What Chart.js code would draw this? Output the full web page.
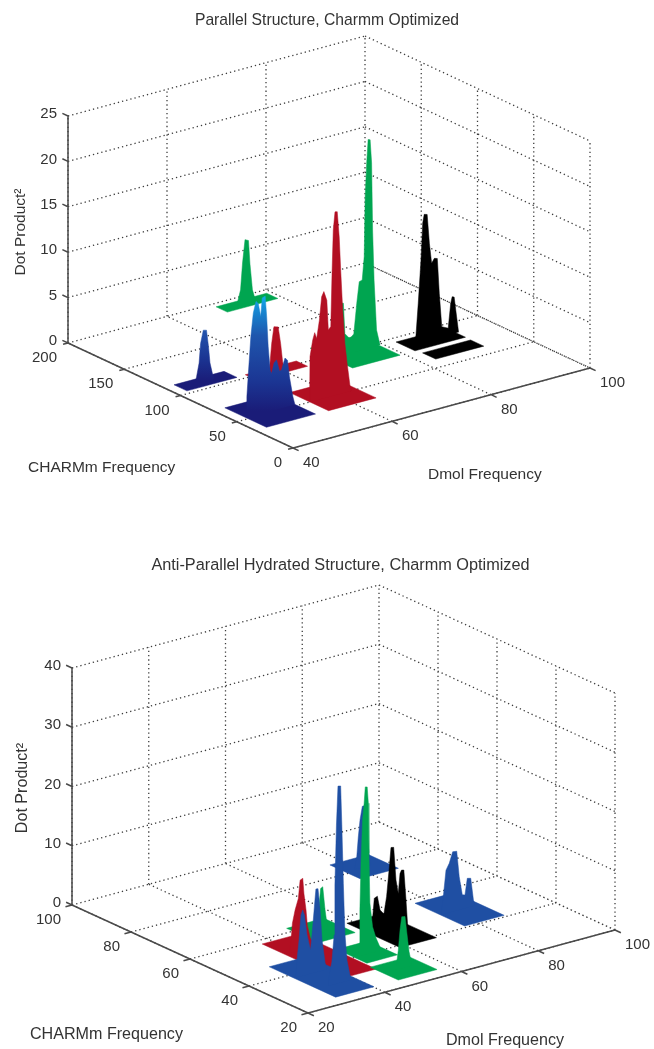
<!DOCTYPE html>
<html>
<head>
<meta charset="utf-8">
<title>Dot Product surfaces</title>
<script src="https://cdn.jsdelivr.net/npm/chart.js@4"></script>
<style>
  html, body { margin: 0; padding: 0; background: #fff; }
  canvas { position: absolute; left: 0; filter: blur(0.4px); }
</style>
</head>
<body>
<canvas id="chartTop" width="654" height="530" style="top:0"></canvas>
<canvas id="chartBottom" width="654" height="519" style="top:530px"></canvas>
<script>
// tick labels
const topDmolTicks = [40, 60, 80, 100];
const topCharmmTicks = [0, 50, 100, 150, 200];
const topDotTicks = [0, 5, 10, 15, 20, 25];
const bottomDmolTicks = [20, 40, 60, 80, 100];
const bottomCharmmTicks = [20, 40, 60, 80, 100];
const bottomDotTicks = [0, 10, 20, 30, 40];

// parallel structure: base plates [min, max] and peak outlines
const topBlackPlateDmol = [82.3, 92.5];
const topBlackPlateCharmm = [77.7, 94.5];
const topBlack2PlateDmol = [82.7, 92.4];
const topBlack2PlateCharmm = [61, 72.7];
const topBlackCharmm = 86;
const topBlackDmol = [84.2, 84.4, 84.85, 85.4, 85.75, 86.05, 86.65, 87.1, 87.55, 88.1, 88.7, 89.1, 89.6, 90.9, 91.4, 91.7, 92.1, 92.6, 93];
const topBlackDot = [0, 1, 4.4, 9.05, 13.1, 14, 13.9, 10.65, 8.4, 8.85, 8.75, 4.85, 1.1, 0.75, 3.4, 4.1, 4, 1.75, 0];

const topGreenBackPlateDmol = [68.9, 79.1];
const topGreenBackPlateCharmm = [185.5, 195.5];
const topGreenBackCharmm = 190.5;
const topGreenBackDmol = [72, 72.2, 72.7, 73.1, 73.6, 74.3, 74.6, 75.1, 75.6, 75.9];
const topGreenBackDot = [0, 0.55, 1.6, 4.5, 7, 6.8, 4.2, 1.25, 0.25, 0];

const topGreenPlateDmol = [69.6, 79.2];
const topGreenPlateCharmm = [77.3, 115];
const topGreenCharmm = 96;
const topGreenDmol = [70.5, 71.3, 71.45, 72, 72.3, 73.3, 74.1, 74.7, 75.2, 75.8, 76.2, 76.4, 76.7, 77, 77.4, 77.7, 77.9, 78.2, 78.7, 79.4];
const topGreenDot = [0, 2.1, 5.8, 5.7, 2.3, 1.6, 2, 5.3, 7.6, 7.7, 10.2, 16.8, 20.4, 23, 22.9, 20.3, 12.9, 7.3, 1.75, 0];

const topRedSmallPlateDmol = [54, 64.3];
const topRedSmallPlateCharmm = [94, 104];
const topRedSmallCharmm = 99;
const topRedSmallDmol = [57.5, 57.85, 58.2, 58.65, 59.5, 60, 60.4, 60.7];
const topRedSmallDot = [0, 1, 3.15, 4.9, 4.75, 2.85, 0.8, 0];

const topNavySmallPlateDmol = [42.1, 52.2];
const topNavySmallPlateCharmm = [103.5, 115];
const topNavySmallCharmm = 109;
const topNavySmallDmol = [45, 45.3, 45.8, 46.1, 46.65, 47.3, 47.7, 48, 48.55, 48.8];
const topNavySmallDot = [0, 0.8, 2.2, 4.3, 5.7, 5.6, 3.75, 1.9, 0.5, 0];

const topRedPlateDmol = [54.8, 64.4];
const topRedPlateCharmm = [33.5, 68];
const topRedCharmm = 50;
const topRedDmol = [54.7, 54.75, 54.8, 55.35, 55.75, 56.15, 56.7, 57.15, 57.6, 58.2, 58.5, 59, 59.25, 59.5, 59.85, 60.3, 60.7, 61, 61.4, 61.85, 62.3, 62.9, 63];
const topRedDot = [0, 1.7, 5, 6.75, 7.5, 6.8, 8.75, 11.25, 11.75, 10.7, 7.4, 7.7, 13.5, 18.25, 20.2, 20.15, 17.3, 13.6, 9.2, 5.4, 3.15, 0.5, 0];

const topNavyPlateDmol = [42.3, 52.2];
const topNavyPlateCharmm = [33.7, 70.7];
const topNavyCharmm = 52;
const topNavyDmol = [42.4, 42.5, 42.8, 43.3, 43.8, 44.35, 44.8, 45.3, 45.6, 46.2, 46.5, 46.8, 47.2, 47.5, 48, 48.5, 49.1, 49.5, 50.2, 50.7, 51.1, 51.8, 52.2];
const topNavyDot = [0, 2.3, 4.8, 8.75, 11.3, 12.5, 12.2, 10.7, 12.7, 12.8, 10.5, 7.2, 4.5, 4.1, 5.2, 5.45, 4.1, 4.2, 5.4, 5.1, 3.2, 0.9, 0];

// anti-parallel hydrated structure
const botBlueBackPlateDmol = [76.6, 86.6];
const botBlueBackPlateCharmm = [76, 86.2];
const botBlueBackCharmm = 81;
const botBlueBackDmol = [79, 79.6, 80, 80.45, 81.05, 81.75, 82.35, 82.9, 83.3];
const botBlueBackDot = [0, 2, 5.3, 8.1, 10.3, 10.3, 4.9, 1.4, 0];

const botBlueRightPlateDmol = [76.8, 87.1];
const botBlueRightPlateCharmm = [40.8, 57.6];
const botBlueRightCharmm = 49;
const botBlueRightDmol = [77, 77.55, 78.25, 79.1, 80, 81.05, 81.7, 82.5, 83.2, 83.8, 84.7, 85.4, 85.8];
const botBlueRightDot = [0, 2.95, 7.3, 8.3, 10.1, 10, 5.6, 2.4, 2.25, 4.95, 4.8, 1, 0];

const botBlackPlateDmol = [58.5, 68];
const botBlackPlateCharmm = [38.9, 56.9];
const botBlackCharmm = 48;
const botBlackDmol = [58, 58.4, 58.8, 59.6, 60.3, 61.3, 62, 62.7, 63.15, 63.85, 64.45, 65.05, 65.5, 65.9, 66.5, 67, 67.5];
const botBlackDot = [0, 3.2, 6.2, 6.4, 3.95, 3.1, 5.9, 10.6, 14, 13.9, 8.3, 5.9, 9.2, 9.7, 9.6, 5.05, 0];

const botGreenBackPlateDmol = [46.8, 56.5];
const botGreenBackPlateCharmm = [51.5, 62.1];
const botGreenBackCharmm = 56.5;
const botGreenBackDmol = [50.2, 50.65, 51, 51.35, 51.9, 52.5, 53.1, 53.5];
const botGreenBackDot = [0, 1, 4.8, 7.2, 7.4, 3.4, 0.5, 0];

const botRedPlateDmol = [37.2, 46.9];
const botRedPlateCharmm = [31.9, 57.9];
const botRedCharmm = 50;
const botRedDmol = [38.2, 38.65, 39, 39.7, 40.55, 41, 41.7, 42, 42.55, 42.9, 44.1, 44.4];
const botRedDot = [0, 2.2, 5, 7.1, 8.9, 11.9, 12.1, 9.5, 6.6, 3.9, 0.4, 0];

const botGreenPlateDmol = [47.5, 55.5];
const botGreenPlateCharmm = [35.8, 46];
const botGreenCharmm = 40;
const botGreenDmol = [48.3, 48.75, 48.9, 49.2, 49.6, 50, 50.3, 50.8, 51.1, 51.25, 51.5, 52.2, 53.1, 54.5];
const botGreenDot = [0, 2.2, 7.8, 16, 22.9, 25.6, 28.3, 28.2, 25.4, 17, 8.5, 4.35, 2.3, 0];

const botGreenFrontPlateDmol = [46.6, 56.7];
const botGreenFrontPlateCharmm = [24, 33.5];
const botGreenFrontCharmm = 29;
const botGreenFrontDmol = [49.8, 50.45, 50.9, 51.35, 52.2, 52.65, 53.25, 54];
const botGreenFrontDot = [0, 3.2, 6.55, 8.7, 8.6, 5.9, 2.5, 0];

const botBluePlateDmol = [30.2, 40.2];
const botBluePlateCharmm = [23.9, 46.4];
const botBlueLeftCharmm = 38;
const botBlueLeftDmol = [30.6, 31.05, 31.5, 32, 32.45, 32.9, 33.6, 34.5, 35.1, 35.65, 35.9, 36.45, 37, 37.5, 38.3, 38.8];
const botBlueLeftDot = [0, 3.45, 6.2, 10.35, 11.1, 10.2, 6.7, 4, 8.1, 12.25, 14.05, 14, 10.3, 5.15, 1.15, 0];
const botBlueTallCharmm = 30;
const botBlueTallDmol = [33, 33.2, 33.9, 34.5, 34.7, 35.1, 35.5, 36.2, 36.5, 36.9, 37.3, 37.85, 38.6, 39];
const botBlueTallDot = [0, 1.85, 3.9, 8.35, 16.75, 26.8, 33.3, 33.2, 26.6, 16.6, 8.2, 3.5, 0.9, 0];

const BLACK = "#000000";
const GREEN = "#00a550";
const RED = "#b20f22";
const NAVY = "#1a1c78";
const BLUE = "#1f4fa3";

const FONT = "'Liberation Sans', Arial, sans-serif";
const TEXT = "#333333";

// view of the box on the page (orthographic, so one step per unit on each axis)
const topView = {
  canvasTop: 0, canvasHeight: 530, titlePad: 11, titleSize: 15.7, leftPad: 0, labelSize: 15.5,
  title: "Parallel Structure, Charmm Optimized",
  dmol: topDmolTicks, charmm: topCharmmTicks, dot: topDotTicks,
  x0: 293, y0: 448, xD: 4.95, yD: -1.333, xC: -1.125, yC: -0.525, yZ: -9.08,
  dmolLabel: { x: 428, y: 475 }, charmmLabel: { x: 28, y: 468 }, dotLabel: { x: 21, y: 232 },
  charmmTickStep: 1,
};
const bottomView = {
  canvasTop: 530, canvasHeight: 519, titlePad: 26, titleSize: 16.3, leftPad: 27, labelSize: 16.1,
  title: "Anti-Parallel Hydrated Structure, Charmm Optimized",
  dmol: bottomDmolTicks, charmm: bottomCharmmTicks, dot: bottomDotTicks,
  x0: 308, y0: 1013, xD: 3.8375, yD: -1.0375, xC: -2.95, yC: -1.35, yZ: -5.925,
  dmolLabel: { x: 446, y: 1041 }, charmmLabel: { x: 30, y: 1035 }, dotLabel: { x: 23, y: 788 },
  charmmTickStep: 1.7,
};

function project(view, dmol, charmm, dot) {
  const d = dmol - view.dmol[0];
  const c = charmm - view.charmm[0];
  return {
    x: view.x0 + view.xD * d + view.xC * c,
    y: view.y0 + view.yD * d + view.yC * c + view.yZ * dot,
  };
}

function plate(view, color, dmol, charmm) {
  const pts = [
    project(view, dmol[0], charmm[1], 0),
    project(view, dmol[0], charmm[0], 0),
    project(view, dmol[1], charmm[0], 0),
    project(view, dmol[1], charmm[1], 0),
    project(view, dmol[0], charmm[1], 0),
  ];
  return markDataset(pts, color);
}

function ridge(view, color, charmm, dmol, dot) {
  const pts = dmol.map((d, i) => project(view, d, charmm, dot[i]));
  return markDataset(pts, color);
}

function markDataset(data, color) {
  return {
    data,
    showLine: true,
    fill: "shape",
    tension: 0,
    pointRadius: 0,
    borderWidth: 0.5,
    borderColor: color,
    backgroundColor: color,
    clip: false,
  };
}

// lines of the box: dotted grid, then the solid axes with their small ticks
function gridDataset(view) {
  const dm = view.dmol, ch = view.charmm, dt = view.dot;
  const dMin = dm[0], dMax = dm[dm.length - 1];
  const cMin = ch[0], cMax = ch[ch.length - 1];
  const zMax = dt[dt.length - 1];
  const data = [];
  const seg = (a, b) => data.push(project(view, ...a), project(view, ...b), { x: NaN, y: NaN });
  dm.forEach((d) => {
    seg([d, cMin, 0], [d, cMax, 0]);
    seg([d, cMax, 0], [d, cMax, zMax]);
  });
  ch.forEach((c) => {
    seg([dMin, c, 0], [dMax, c, 0]);
    seg([dMax, c, 0], [dMax, c, zMax]);
  });
  dt.forEach((z) => {
    seg([dMin, cMax, z], [dMax, cMax, z]);
    seg([dMax, cMax, z], [dMax, cMin, z]);
  });
  return {
    data, showLine: true, spanGaps: false, pointRadius: 0, tension: 0, clip: false,
    borderColor: "#3c3c3c", borderWidth: 1.3, borderDash: [1.3, 3],
  };
}

function axesDataset(view) {
  const dm = view.dmol, ch = view.charmm, dt = view.dot;
  const dMin = dm[0], dMax = dm[dm.length - 1];
  const cMin = ch[0], cMax = ch[ch.length - 1];
  const zMax = dt[dt.length - 1];
  const data = [];
  const seg = (a, b) => data.push(project(view, ...a), project(view, ...b), { x: NaN, y: NaN });
  seg([dMin, cMax, 0], [dMin, cMax, zMax]);
  seg([dMin, cMax, 0], [dMin, cMin, 0]);
  seg([dMin, cMin, 0], [dMax, cMin, 0]);
  const cStep = (cMax - cMin) / 40;
  dt.forEach((z) => seg([dMin, cMax, z], [dMin, cMax + cStep, z]));
  ch.forEach((c) => seg([dMin, c, 0], [dMin - view.charmmTickStep, c, 0]));
  dm.forEach((d) => seg([d, cMin, 0], [d, cMin - cStep, 0]));
  return {
    data, showLine: true, spanGaps: false, pointRadius: 0, tension: 0, clip: false,
    borderColor: "#4a4a4a", borderWidth: 1.5,
  };
}

// ticks and axis names sit on the box corners, the library has no 3D axis for them
const boxText = {
  id: "boxText",
  afterDraw(chart, args, opts) {
    const view = opts.view;
    const { ctx, scales } = chart;
    const px = (p) => ({ x: scales.x.getPixelForValue(p.x), y: scales.y.getPixelForValue(p.y) });
    const dm = view.dmol, ch = view.charmm;
    const dMin = dm[0], cMin = ch[0], cMax = ch[ch.length - 1];
    ctx.save();
    ctx.fillStyle = TEXT;
    ctx.font = "15px " + FONT;
    ctx.textBaseline = "middle";
    ctx.textAlign = "right";
    view.dot.forEach((z) => {
      const p = px(project(view, dMin, cMax, z));
      ctx.fillText(String(z), p.x - 11, p.y - 2);
    });
    ch.forEach((c) => {
      const p = px(project(view, dMin, c, 0));
      ctx.fillText(String(c), p.x - 11, p.y + 15);
    });
    ctx.textAlign = "left";
    dm.forEach((d) => {
      const p = px(project(view, d, cMin, 0));
      ctx.fillText(String(d), p.x + 10, p.y + 15);
    });
    ctx.font = view.labelSize + "px " + FONT;
    const top = view.canvasTop;
    ctx.fillText("Dmol Frequency", view.dmolLabel.x, view.dmolLabel.y - top);
    ctx.fillText("CHARMm Frequency", view.charmmLabel.x, view.charmmLabel.y - top);
    ctx.translate(view.dotLabel.x, view.dotLabel.y - top);
    ctx.rotate(-Math.PI / 2);
    ctx.textAlign = "center";
    ctx.fillText("Dot Product\u00b2", 0, 0);
    ctx.restore();
  },
};

function heightShade(view, canvas, stops, dmol, charmm, dotMax) {
  const ctx = canvas.getContext("2d");
  const base = project(view, dmol, charmm, 0).y - view.canvasTop;
  const peak = project(view, dmol, charmm, dotMax).y - view.canvasTop;
  const g = ctx.createLinearGradient(0, base, 0, peak);
  stops.forEach(([at, color]) => g.addColorStop(at, color));
  return g;
}

function drawBox(id, view, marks) {
  const canvas = document.getElementById(id);
  const titleHeight = view.titlePad + view.titleSize * 1.2;
  const datasets = [gridDataset(view)].concat(marks(canvas), [axesDataset(view)]);
  // the library draws lower order on top, marks are listed back to front
  datasets.forEach((ds, i) => { ds.order = datasets.length - i; });
  new Chart(canvas, {
    type: "scatter",
    data: { datasets },
    options: {
      responsive: false,
      animation: false,
      events: [],
      layout: { padding: { left: view.leftPad } },
      scales: {
        x: { type: "linear", display: false, min: view.leftPad, max: 654 },
        y: {
          type: "linear", display: false, reverse: true,
          min: view.canvasTop + titleHeight,
          max: view.canvasTop + view.canvasHeight,
        },
      },
      plugins: {
        legend: { display: false },
        tooltip: { enabled: false },
        title: {
          display: true,
          text: view.title,
          color: TEXT,
          font: { family: FONT, size: view.titleSize, weight: "normal" },
          padding: { top: view.titlePad, bottom: 0 },
          align: "center",
        },
        boxText: { view },
      },
    },
    plugins: [boxText],
  });
}

drawBox("chartTop", topView, (canvas) => {
  const v = topView;
  const navyShade = heightShade(v, canvas,
    [[0, NAVY], [0.25, "#1b3593"], [0.65, "#1f56ad"], [0.9, "#1590d8"], [1, "#0fb0ee"]],
    47.3, topNavyCharmm, 12.8);
  const navySmallShade = heightShade(v, canvas,
    [[0, NAVY], [0.45, "#1b3593"], [1, "#2456ae"]],
    47.2, topNavySmallCharmm, 5.7);
  return [
    plate(v, BLACK, topBlackPlateDmol, topBlackPlateCharmm),
    plate(v, BLACK, topBlack2PlateDmol, topBlack2PlateCharmm),
    ridge(v, BLACK, topBlackCharmm, topBlackDmol, topBlackDot),
    plate(v, GREEN, topGreenBackPlateDmol, topGreenBackPlateCharmm),
    ridge(v, GREEN, topGreenBackCharmm, topGreenBackDmol, topGreenBackDot),
    plate(v, GREEN, topGreenPlateDmol, topGreenPlateCharmm),
    ridge(v, GREEN, topGreenCharmm, topGreenDmol, topGreenDot),
    plate(v, RED, topRedSmallPlateDmol, topRedSmallPlateCharmm),
    ridge(v, RED, topRedSmallCharmm, topRedSmallDmol, topRedSmallDot),
    plate(v, NAVY, topNavySmallPlateDmol, topNavySmallPlateCharmm),
    ridge(v, navySmallShade, topNavySmallCharmm, topNavySmallDmol, topNavySmallDot),
    plate(v, RED, topRedPlateDmol, topRedPlateCharmm),
    ridge(v, RED, topRedCharmm, topRedDmol, topRedDot),
    plate(v, NAVY, topNavyPlateDmol, topNavyPlateCharmm),
    ridge(v, navyShade, topNavyCharmm, topNavyDmol, topNavyDot),
  ];
});

drawBox("chartBottom", bottomView, () => {
  const v = bottomView;
  return [
    plate(v, BLUE, botBlueBackPlateDmol, botBlueBackPlateCharmm),
    ridge(v, BLUE, botBlueBackCharmm, botBlueBackDmol, botBlueBackDot),
    plate(v, BLUE, botBlueRightPlateDmol, botBlueRightPlateCharmm),
    ridge(v, BLUE, botBlueRightCharmm, botBlueRightDmol, botBlueRightDot),
    plate(v, BLACK, botBlackPlateDmol, botBlackPlateCharmm),
    ridge(v, BLACK, botBlackCharmm, botBlackDmol, botBlackDot),
    plate(v, GREEN, botGreenBackPlateDmol, botGreenBackPlateCharmm),
    ridge(v, GREEN, botGreenBackCharmm, botGreenBackDmol, botGreenBackDot),
    plate(v, RED, botRedPlateDmol, botRedPlateCharmm),
    ridge(v, RED, botRedCharmm, botRedDmol, botRedDot),
    plate(v, GREEN, botGreenPlateDmol, botGreenPlateCharmm),
    ridge(v, GREEN, botGreenCharmm, botGreenDmol, botGreenDot),
    plate(v, GREEN, botGreenFrontPlateDmol, botGreenFrontPlateCharmm),
    ridge(v, GREEN, botGreenFrontCharmm, botGreenFrontDmol, botGreenFrontDot),
    plate(v, BLUE, botBluePlateDmol, botBluePlateCharmm),
    ridge(v, BLUE, botBlueLeftCharmm, botBlueLeftDmol, botBlueLeftDot),
    ridge(v, BLUE, botBlueTallCharmm, botBlueTallDmol, botBlueTallDot),
  ];
});
</script>
</body>
</html>
